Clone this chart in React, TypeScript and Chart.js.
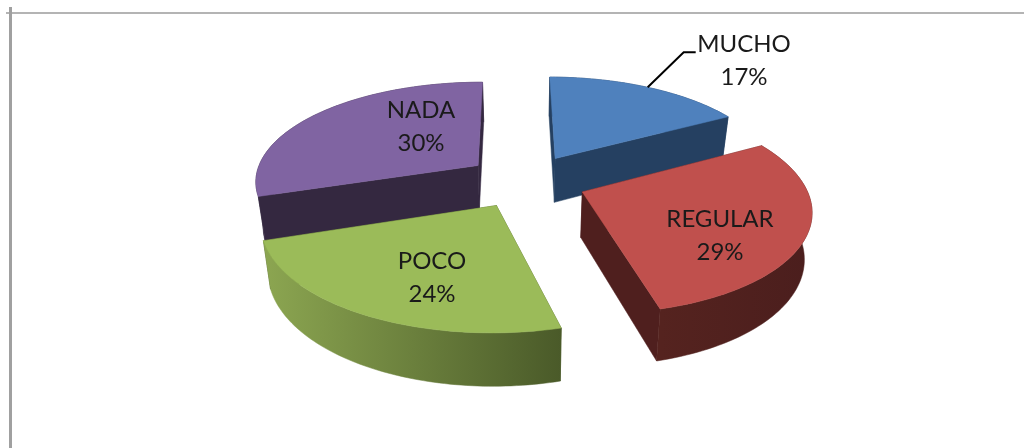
import React, { useEffect, useRef } from "react";
import { Chart, registerables } from "chart.js";

Chart.register(...registerables);

const categories = ["MUCHO", "REGULAR", "POCO", "NADA"];
const percentages = [17, 29, 24, 30];

const topColors = ["#4f81bd", "#c0504d", "#9bbb59", "#8064a2"];
const wallColors = ["#254061", "#4f1f1e", "#4a5a29", "#342840"];
const outerWallLeft = ["#254061", "#55231f", "#8ca651", "#342840"];
const outerWallRight = ["#254061", "#4b1e1d", "#4a5a29", "#342840"];
const textColor = "#1a1a1a";
const fontFamily = "Lato, 'Noto Sans', sans-serif";

// Label centres (between the two text lines) on the picture.
const labelCentres = [
  [744, 60],
  [720, 235],
  [432, 277],
  [421, 126],
];

// View of the pie plane: tilted, with a little perspective.
const view = { cx: 526, cy: 181, a: 223, b: 2, d: 100, g: 0.004, h: -0.15 };
const depth = { base: 45, slope: 0.055, shrink: 0.973 };
const paintOrder = [3, 0, 1, 2];

type Pt = [number, number];
const project = (u: number, v: number): Pt => {
  const w = 1 + view.g * u + view.h * v;
  return [view.cx + (view.a * u + view.b * v) / w, view.cy + (view.d * v) / w];
};
const lower = ([x, y]: Pt): Pt => [
  view.cx + (x - view.cx) * depth.shrink,
  y + depth.base + depth.slope * (y - view.cy),
];

const fillPoly = (ctx: CanvasRenderingContext2D, pts: Pt[], fill: string | CanvasGradient) => {
  ctx.beginPath();
  pts.forEach((p, i) => (i ? ctx.lineTo(p[0], p[1]) : ctx.moveTo(p[0], p[1])));
  ctx.closePath();
  ctx.fillStyle = fill;
  ctx.fill();
  ctx.strokeStyle = fill;
  ctx.lineWidth = 0.5;
  ctx.stroke();
};

const pie3d = {
  id: "pie3d",
  beforeDatasetsDraw(chart: any) {
    const ctx: CanvasRenderingContext2D = chart.ctx;
    const meta = chart.getDatasetMeta(0);
    const arcs = meta.data;
    const geo = arcs.map((arc: any) => {
      const R = arc.outerRadius;
      const mid = (arc.startAngle + arc.endAngle) / 2;
      const e = (arc.options.offset || 0) / 4 / R;
      const ax = e * Math.cos(mid);
      const ay = e * Math.sin(mid);
      const rim: Pt[] = [];
      const steps = 72;
      for (let i = 0; i <= steps; i++) {
        const t = arc.startAngle + ((arc.endAngle - arc.startAngle) * i) / steps;
        rim.push(project(ax + Math.cos(t), ay + Math.sin(t)));
      }
      return {
        apex: project(ax, ay),
        rim,
        midPoint: project(ax + Math.cos(mid), ay + Math.sin(mid)),
      };
    });

    ctx.save();
    paintOrder.forEach((i) => {
      const { apex, rim } = geo[i];
      const first = rim[0];
      const last = rim[rim.length - 1];
      fillPoly(ctx, [apex, first, lower(first), lower(apex)], wallColors[i]);
      fillPoly(ctx, [apex, last, lower(last), lower(apex)], wallColors[i]);
      const xs = rim.map((p: Pt) => p[0]);
      const grad = ctx.createLinearGradient(Math.min(...xs), 0, Math.max(...xs), 0);
      grad.addColorStop(0, outerWallLeft[i]);
      grad.addColorStop(1, outerWallRight[i]);
      fillPoly(ctx, [...rim, ...[...rim].reverse().map(lower)], grad);
      fillPoly(ctx, [apex, ...rim], topColors[i]);
    });

    // leader line of the first label
    const m = geo[0].midPoint;
    ctx.beginPath();
    ctx.moveTo(m[0], m[1]);
    ctx.lineTo(m[0] + 36, m[1] - 35);
    ctx.lineTo(m[0] + 48, m[1] - 35);
    ctx.strokeStyle = "#000000";
    ctx.lineWidth = 2;
    ctx.stroke();

    ctx.font = `24px ${fontFamily}`;
    ctx.textAlign = "center";
    ctx.textBaseline = "middle";
    ctx.fillStyle = textColor;
    categories.forEach((name, i) => {
      const [x, y] = labelCentres[i];
      ctx.fillText(name, x, y - 16);
      ctx.fillText(`${percentages[i]}%`, x, y + 17);
    });
    ctx.restore();
    return false;
  },
};

export default function App() {
  const ref = useRef<HTMLCanvasElement>(null);
  useEffect(() => {
    const chart = new Chart(ref.current!, {
      type: "pie",
      data: {
        labels: categories,
        datasets: [
          {
            data: percentages,
            backgroundColor: topColors,
            borderWidth: 0,
            offset: 157,
          },
        ],
      },
      options: {
        responsive: false,
        animation: false,
        plugins: { legend: { display: false }, tooltip: { enabled: false }, title: { display: false } },
      },
      plugins: [pie3d],
    } as any);
    return () => chart.destroy();
  }, []);
  return (
    <div style={{ position: "fixed", left: 0, top: 0, width: 1024, height: 448, background: "#fff", overflow: "hidden" }}>
      <canvas ref={ref} width={1024} height={448} style={{ display: "block", filter: "blur(0.4px)" }} />
      <div style={{ position: "absolute", left: 6, right: 0, top: 12, height: 2, background: "#b4b4b4" }} />
      <div style={{ position: "absolute", left: 9, width: 3, top: 7, bottom: 0, background: "#a0a0a0" }} />
    </div>
  );
}
